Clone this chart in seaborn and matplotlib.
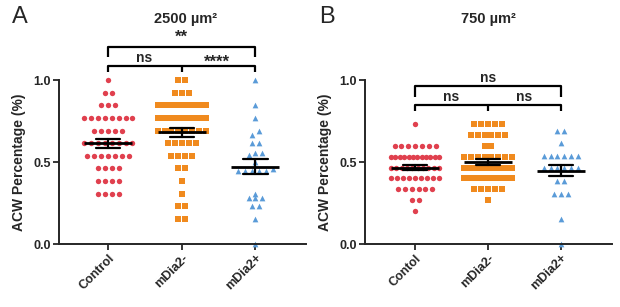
import numpy as np
import pandas as pd
import matplotlib
matplotlib.use("Agg")
import matplotlib.pyplot as plt
import seaborn as sns

sns.set_style("ticks")
plt.rcParams["font.family"] = ["Liberation Sans", "DejaVu Sans"]
plt.rcParams["font.weight"] = "bold"

# Panel A (2500 um2) - row values and number of cells on each row
a_ctrl_vals = [1.0, 0.923, 0.846, 0.769, 0.692, 0.615, 0.538, 0.462, 0.385, 0.308]
a_ctrl_counts = [1, 2, 3, 8, 5, 8, 7, 4, 4, 4]
a_minus_vals = [1.0, 0.923, 0.846, 0.769, 0.692, 0.615, 0.538, 0.462, 0.385, 0.308, 0.231, 0.154]
a_minus_counts = [2, 3, 10, 10, 8, 5, 4, 2, 1, 1, 2, 2]
a_plus = [1.0, 0.846, 0.769, 0.692, 0.667, 0.615, 0.615, 0.556, 0.545, 0.556, 0.5,
          0.444, 0.444, 0.444, 0.444, 0.444, 0.455, 0.308, 0.278, 0.278, 0.278,
          0.231, 0.231, 0.154, 0.0]

# Panel B (750 um2)
b_ctrl_vals = [0.733, 0.6, 0.533, 0.467, 0.4, 0.333, 0.267, 0.2]
b_ctrl_counts = [1, 7, 12, 10, 9, 6, 2, 1]
b_minus_vals = [0.733, 0.667, 0.6, 0.533, 0.467, 0.4, 0.333, 0.267]
b_minus_counts = [5, 6, 2, 8, 12, 11, 5, 1]
b_plus_vals = [0.692, 0.615, 0.538, 0.462, 0.385, 0.308, 0.154, 0.0]
b_plus_counts = [2, 1, 6, 6, 2, 3, 1, 1]

labels_a = ["Control", "mDia2-", "mDia2+"]
labels_b = ["Contol", "mDia2-", "mDia2+"]
colors = ["#E0404E", "#F08A1E", "#5A9BD8"]
markers = ["o", "s", "^"]
sizes = [15, 13, 17]


def row_offsets(vals, step=0.094, half=0.33, tol=0.025):
    # GraphPad-like scatter: points on (nearly) the same value are spread in a row
    vals = np.asarray(vals, dtype=float)
    order = np.argsort(vals, kind="stable")
    offs = np.zeros(len(vals))
    clusters, cur = [], [order[0]]
    for i in order[1:]:
        if vals[i] - vals[cur[-1]] < tol:
            cur.append(i)
        else:
            clusters.append(cur)
            cur = [i]
    clusters.append(cur)
    for c in clusters:
        n = len(c)
        s = step if (n - 1) * step <= 2 * half else 2 * half / (n - 1)
        for k, i in enumerate(c):
            offs[i] = (k - (n - 1) / 2) * s
    return offs


def make_df(groups):
    rows = []
    for g, vals in enumerate(groups):
        offs = row_offsets(vals)
        for v, o in zip(vals, offs):
            rows.append({"grp": g, "x": g + o, "val": v})
    return pd.DataFrame(rows)


df_a = make_df([np.repeat(a_ctrl_vals, a_ctrl_counts),
                np.repeat(a_minus_vals, a_minus_counts),
                np.array(a_plus)])
df_b = make_df([np.repeat(b_ctrl_vals, b_ctrl_counts),
                np.repeat(b_minus_vals, b_minus_counts),
                np.repeat(b_plus_vals, b_plus_counts)])

fig = plt.figure(figsize=(6.2, 3.07), dpi=100)
ax_a = fig.add_axes([0.095, 0.205, 0.399, 0.534])
ax_b = fig.add_axes([0.589, 0.205, 0.398, 0.534])


def draw_panel(ax, df, labels, xlim):
    for g in range(3):
        sub = df[df["grp"] == g]
        sns.scatterplot(data=sub, x="x", y="val", ax=ax, color=colors[g],
                        marker=markers[g], s=sizes[g], linewidth=0, zorder=2,
                        legend=False, clip_on=False)
    sns.pointplot(data=df, x="grp", y="val", ax=ax, native_scale=True,
                  errorbar="se", capsize=0.33, color="black", markers="_",
                  linestyles="none", markersize=34, markeredgewidth=2,
                  err_kws={"linewidth": 1.6}, zorder=3)
    ax.set_xlim(*xlim)
    ax.set_ylim(0, 1.0)
    ax.set_xticks([0, 1, 2])
    ax.set_xticklabels(labels, rotation=45, ha="right", rotation_mode="anchor",
                       fontsize=9, fontweight="bold")
    ax.set_yticks([0, 0.5, 1.0])
    ax.set_yticklabels(["0.0", "0.5", "1.0"], fontsize=9, fontweight="bold")
    ax.set_xlabel("")
    ax.set_ylabel("ACW Percentage (%)", fontsize=10, fontweight="bold", labelpad=5)
    ax.tick_params(axis="both", width=1.3, length=4, pad=2)
    for side in ["top", "right"]:
        ax.spines[side].set_visible(False)
    for side in ["left", "bottom"]:
        ax.spines[side].set_linewidth(1.4)


def bracket(ax, x0, x1, y, drop, mid=False):
    kw = dict(color="black", lw=1.6, clip_on=False, solid_capstyle="butt")
    ax.plot([x0, x0, x1, x1], [y - drop, y, y, y - drop], **kw)
    if mid:
        ax.plot([(x0 + x1) / 2] * 2, [y, y - drop], **kw)


draw_panel(ax_a, df_a, labels_a, (-0.67, 2.69))
draw_panel(ax_b, df_b, labels_b, (-0.685, 2.70))

# significance brackets, panel A
bracket(ax_a, 0, 2, 1.20, 0.06)
bracket(ax_a, 0, 2, 1.085, 0.035, mid=True)
ax_a.text(1, 1.215, "**", ha="center", va="bottom", fontsize=12, fontweight="bold", clip_on=False)
ax_a.text(0.49, 1.092, "ns", ha="center", va="bottom", fontsize=10, fontweight="bold", clip_on=False)
ax_a.text(1.48, 1.065, "****", ha="center", va="bottom", fontsize=12, fontweight="bold", clip_on=False)

# significance brackets, panel B
bracket(ax_b, 0, 2, 0.963, 0.067)
bracket(ax_b, 0, 2, 0.848, 0.038, mid=True)
ax_b.text(1, 0.972, "ns", ha="center", va="bottom", fontsize=10, fontweight="bold", clip_on=False)
ax_b.text(0.5, 0.857, "ns", ha="center", va="bottom", fontsize=10, fontweight="bold", clip_on=False)
ax_b.text(1.5, 0.857, "ns", ha="center", va="bottom", fontsize=10, fontweight="bold", clip_on=False)

# panel titles and letters
ax_a.text(0.51, 1.37, "2500 µm²", transform=ax_a.transAxes, ha="center", va="center",
          fontsize=10.5, fontweight="bold")
ax_b.text(0.50, 1.37, "750 µm²", transform=ax_b.transAxes, ha="center", va="center",
          fontsize=10.5, fontweight="bold")
fig.text(0.032, 0.945, "A", ha="center", va="center", fontsize=17, fontweight="normal")
fig.text(0.527, 0.945, "B", ha="center", va="center", fontsize=17, fontweight="normal")

fig.savefig("out.png", dpi=100)
